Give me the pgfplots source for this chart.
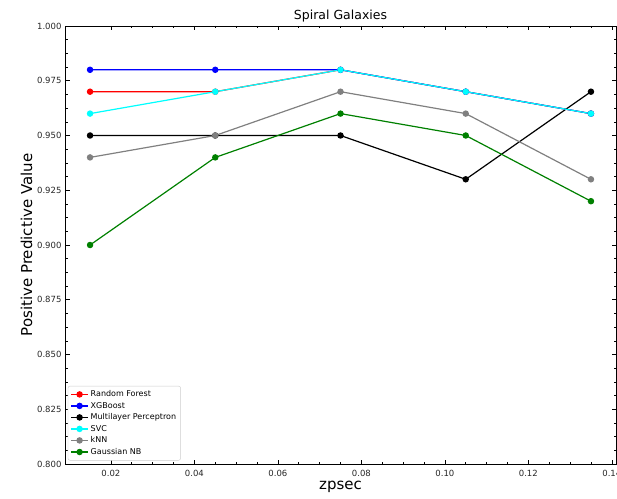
\documentclass[border=0pt]{standalone}
\usepackage{pgfplots}
\pgfplotsset{compat=1.18}
\usepackage{fontspec}
\setmainfont{DejaVu Sans}
\definecolor{mplgray}{HTML}{808080}
\definecolor{mplgreen}{HTML}{008000}
\definecolor{mplcyan}{HTML}{00FFFF}
\begin{document}
\begin{tikzpicture}
\begin{axis}[
  name=ax,
  scale only axis,
  width=551pt, height=438pt,
  xmin=0.009, xmax=0.141,
  ymin=0.8, ymax=1.0,
  xtick={0.02,0.04,0.06,0.08,0.10,0.12,0.14},
  ytick={0.800,0.825,0.850,0.875,0.900,0.925,0.950,0.975,1.000},
  minor x tick num=3,
  minor y tick num=3,
  tick align=inside,
  xtick pos=both, ytick pos=both,
  xticklabel pos=bottom, yticklabel pos=left,
  major tick length=4.5pt, minor tick length=2.5pt,
  tick style={black, line width=0.6pt},
  axis line style={black, line width=0.8pt},
  /pgf/number format/assume math mode=true,
  xticklabel style={/pgf/number format/.cd, fixed, fixed zerofill, precision=2, /tikz/.cd, font=\fontsize{8.5}{10}\selectfont, text=black!85, yshift=-3pt},
  yticklabel style={/pgf/number format/.cd, fixed, fixed zerofill, precision=3, /tikz/.cd, font=\fontsize{8.5}{10}\selectfont, text=black!85},
  scaled x ticks=false, scaled y ticks=false,
  title={Spiral Galaxies},
  title style={font=\fontsize{12.5}{14}\selectfont, yshift=-6pt},
  xlabel={zpsec},
  ylabel={Positive Predictive Value},
  xlabel style={font=\fontsize{15}{17}\selectfont, at={(axis description cs:0.5,0)}, anchor=center, yshift=-23pt},
  ylabel style={font=\fontsize{15}{17}\selectfont, yshift=-2pt},
  legend style={font=\fontsize{8}{9.5}\selectfont, draw=black!20, rounded corners=2pt, at={(0.005,0.008)}, anchor=south west, row sep=0pt, inner sep=2.5pt},
  legend cell align=left,
  every axis plot/.append style={line width=1.2pt, mark=*, mark size=2.6pt},
]
\addplot[color=red, mark options={fill=red, draw=red}] coordinates {(0.015,0.97) (0.045,0.97) (0.075,0.98) (0.105,0.97) (0.135,0.96)};
\addlegendentry{Random Forest}
\addplot[color=blue, mark options={fill=blue, draw=blue}] coordinates {(0.015,0.98) (0.045,0.98) (0.075,0.98) (0.105,0.97) (0.135,0.96)};
\addlegendentry{XGBoost}
\addplot[color=black, mark options={fill=black, draw=black}] coordinates {(0.015,0.95) (0.045,0.95) (0.075,0.95) (0.105,0.93) (0.135,0.97)};
\addlegendentry{Multilayer Perceptron}
\addplot[color=mplcyan, mark options={fill=mplcyan, draw=mplcyan}] coordinates {(0.015,0.96) (0.045,0.97) (0.075,0.98) (0.105,0.97) (0.135,0.96)};
\addlegendentry{SVC}
\addplot[color=mplgray, mark options={fill=mplgray, draw=mplgray}] coordinates {(0.015,0.94) (0.045,0.95) (0.075,0.97) (0.105,0.96) (0.135,0.93)};
\addlegendentry{kNN}
\addplot[color=mplgreen, mark options={fill=mplgreen, draw=mplgreen}] coordinates {(0.015,0.90) (0.045,0.94) (0.075,0.96) (0.105,0.95) (0.135,0.92)};
\addlegendentry{Gaussian NB}
\end{axis}
\pgfresetboundingbox
\path[use as bounding box] ([xshift=-65pt,yshift=-34pt]ax.south west) rectangle ([xshift=1pt,yshift=26pt]ax.north east);
\end{tikzpicture}
\end{document}
